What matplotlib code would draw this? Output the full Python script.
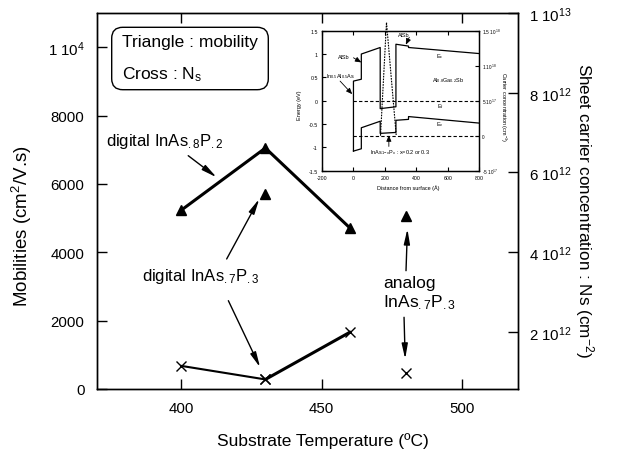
import matplotlib
matplotlib.use("Agg")
import matplotlib.pyplot as plt
from matplotlib.patches import FancyBboxPatch
from matplotlib.transforms import IdentityTransform

plt.rcParams['font.family'] = ['Liberation Sans', 'DejaVu Sans']
plt.rcParams['mathtext.fontset'] = 'custom'
plt.rcParams['mathtext.rm'] = 'Liberation Sans'
plt.rcParams['mathtext.it'] = 'Liberation Sans:italic'
plt.rcParams['mathtext.bf'] = 'Liberation Sans:bold'

# ---------------- data ----------------
temp_digital = [400, 430, 460]
mob_digital82 = [5230, 7050, 4720]
ns_digital = [1.15e12, 0.81e12, 1.99e12]
temp_digital73 = [430]
mob_digital73 = [5700]
temp_analog = [480]
mob_analog = [5050]
ns_analog = [0.98e12]

left_ticks = [0, 2000, 4000, 6000, 8000, 10000]
left_labels = ['0', '2000', '4000', '6000', '8000', r'1 10$\mathregular{^{4}}$']
right_ticks = [2e12, 4e12, 6e12, 8e12, 1e13]
right_labels = [r'2 10$\mathregular{^{12}}$', r'4 10$\mathregular{^{12}}$',
                r'6 10$\mathregular{^{12}}$', r'8 10$\mathregular{^{12}}$',
                r'1 10$\mathregular{^{13}}$']
x_ticks = [400, 450, 500]

# inset band diagram
band_x = [0, 0, 50, 50, 170, 170, 270, 270, 350, 350, 800]
ec_y = [-1.08, 0.42, 0.46, 1.00, 1.14, -0.17, -0.13, 1.21, 1.17, 1.14, 1.01]
ev_x = [0, 50, 50, 170, 170, 270, 270, 350, 350, 800]
ev_y = [-1.08, -1.03, -0.58, -0.44, -0.70, -0.68, -0.42, -0.40, -0.34, -0.48]
conc_x = [172, 210, 272]
conc_y = [0, 1.62e18, 0]
inset_xticks = [-200, 0, 200, 400, 600, 800]
inset_yticks = [-1.5, -1, -0.5, 0, 0.5, 1, 1.5]
inset_ylabels = ['-1.5', '-1', '-0.5', '0', '0.5', '1', '1.5']
inset_rticks = [-5e17, 0, 5e17, 1e18, 1.5e18]
inset_rlabels = [r'-5 10$\mathregular{^{17}}$', '0', r'5 10$\mathregular{^{17}}$',
                 r'1 10$\mathregular{^{18}}$', r'1.5 10$\mathregular{^{18}}$']

W, H = 618, 452
fig = plt.figure(figsize=(W / 100, H / 100), dpi=100)

def fx(px):
    return px / W

def fy(py):
    return 1 - py / H

ax = fig.add_axes([fx(97), fy(390), fx(518) - fx(97), fy(14) - fy(390)])
ax2 = ax.twinx()

ax.set_xlim(370, 520)
ax.set_ylim(0, 11000)
ax2.set_ylim(0.57e12, 1e13)

for a in (ax, ax2):
    for s in a.spines.values():
        s.set_linewidth(1.0)

ax.set_xticks(x_ticks)
ax.set_xticklabels([str(t) for t in x_ticks])
ax.set_yticks(left_ticks)
ax.set_yticklabels(left_labels)
ax.tick_params(axis='x', direction='in', top=True, length=7, width=1, labelsize=10.8, pad=9)
ax.tick_params(axis='y', direction='in', right=False, length=7, width=1, labelsize=10.8, pad=9)
ax2.set_yticks(right_ticks)
ax2.set_yticklabels(right_labels)
ax2.tick_params(axis='y', direction='in', length=7, width=1, labelsize=10.8, pad=8)

# mobility data
ax.plot(temp_digital, mob_digital82, color='k', lw=2.2, marker='^', ms=6.5, zorder=3)
ax.plot(temp_digital73, mob_digital73, ls='none', color='k', marker='^', ms=6.5)
ax.plot(temp_analog, mob_analog, ls='none', color='k', marker='^', ms=6.5)
# Ns data
ax2.plot(temp_digital[:2], ns_digital[:2], color='k', lw=1.5, marker='x', ms=7.5, mew=1)
ax2.plot(temp_digital[1:], ns_digital[1:], color='k', lw=2.2, marker='x', ms=7.5, mew=1)
ax2.plot(temp_analog, ns_analog, ls='none', color='k', marker='x', ms=7.5, mew=1)

# labels
fig.text(fx(22), fy(226), r'Mobilities (cm$\mathregular{^{2}}$/V.s)', rotation=90,
         ha='center', va='center', fontsize=13.5)
fig.text(fx(323), fy(441), 'Substrate Temperature (ºC)', ha='center', va='center', fontsize=12.5)
fig.text(fx(584), fy(211), r'Sheet carrier concentration : Ns (cm$\mathregular{^{-2}}$)',
         rotation=270, ha='center', va='center', fontsize=12.3)

# annotations
akw = dict(arrowstyle='-|>,head_length=0.75,head_width=0.15', color='k', lw=1.0,
           shrinkA=0, shrinkB=0, mutation_scale=12)
ax.text(373.2, 7257, r'digital InAs$\mathregular{_{.8}}$P$\mathregular{_{.2}}$',
        ha='left', va='center', fontsize=12)
ax.annotate('', xy=(412.6, 6194), xytext=(402.5, 6826), arrowprops=akw)

ax.text(385.9, 3306, r'digital InAs$\mathregular{_{.7}}$P$\mathregular{_{.3}}$',
        ha='left', va='center', fontsize=12)
ax.annotate('', xy=(427.8, 5559), xytext=(416.2, 3804), arrowprops=akw)
ax.annotate('', xy=(428.1, 635), xytext=(416.8, 2584), arrowprops=akw)

ax.text(472.0, 2809, 'analog\n' + r'InAs$\mathregular{_{.7}}$P$\mathregular{_{.3}}$',
        ha='left', va='center', fontsize=12.5, linespacing=1.2)
ax.annotate('', xy=(480.6, 4682), xytext=(480.1, 3461), arrowprops=akw)
ax.annotate('', xy=(479.8, 878), xytext=(479.4, 2098), arrowprops=akw)

# legend-like box
box = FancyBboxPatch((111.7, H - 90.7), 156.6, 62.4,
                     boxstyle='round,pad=0,rounding_size=11',
                     transform=IdentityTransform(), facecolor='white',
                     edgecolor='k', lw=1.0, zorder=5)
fig.patches.append(box)
fig.text(fx(121.5), fy(43), 'Triangle : mobility', ha='left', va='center', fontsize=12.5, zorder=6)
fig.text(fx(121.5), fy(75), r'Cross : N$\mathregular{_{s}}$', ha='left', va='center', fontsize=12.5, zorder=6)

# ---------------- inset ----------------
axi = fig.add_axes([fx(322), fy(171.7), fx(479.3) - fx(322), fy(31.7) - fy(171.7)])
axi2 = axi.twinx()
axi.set_xlim(-200, 800)
axi.set_ylim(-1.5, 1.5)
axi2.set_ylim(-5e17, 1.5e18)
for a in (axi, axi2):
    for s in a.spines.values():
        s.set_linewidth(0.9)
axi.set_xticks(inset_xticks)
axi.set_xticklabels([str(t) for t in inset_xticks])
axi.set_yticks(inset_yticks)
axi.set_yticklabels(inset_ylabels)
axi.tick_params(direction='in', top=True, right=False, length=3, width=0.8, labelsize=3.8, pad=3)
axi2.set_yticks(inset_rticks)
axi2.set_yticklabels(inset_rlabels)
axi2.tick_params(direction='in', length=3, width=0.8, labelsize=3.4, pad=2)

axi.plot(band_x, ec_y, color='k', lw=0.9)
axi.plot(ev_x, ev_y, color='k', lw=0.9)
axi.plot([0, 800], [0, 0], color='k', lw=0.8, ls=(0, (3, 2)))
axi2.plot([0, 800], [0, 0], color='k', lw=0.8, ls=(0, (3, 2)))
axi2.plot(conc_x, conc_y, color='k', lw=0.8, ls=(0, (1.5, 1)), clip_on=False)

fig.text(fx(300), fy(105), 'Energy (eV)', rotation=90, ha='center', va='center', fontsize=4)
fig.text(fx(408), fy(188), 'Distance from surface (Å)', ha='center', va='center', fontsize=4)
fig.text(fx(503), fy(107), r'Carrier concentration (cm$\mathregular{^{-3}}$)', rotation=270,
         ha='center', va='center', fontsize=4)

ikw = dict(arrowstyle='-|>,head_length=0.6,head_width=0.25', color='k', lw=0.6,
           shrinkA=0, shrinkB=0, mutation_scale=6)
axi.text(-60, 0.95, 'AlSb', ha='center', va='center', fontsize=4)
axi.annotate('', xy=(50, 0.82), xytext=(0, 0.92), arrowprops=ikw)
axi.text(-85, 0.53, r'In$\mathregular{_{0.5}}$Al$\mathregular{_{0.5}}$As', ha='center', va='center', fontsize=4)
axi.annotate('', xy=(-8, 0.14), xytext=(-85, 0.42), arrowprops=ikw)
axi.text(320, 1.42, 'AlSb', ha='center', va='center', fontsize=4)
axi.annotate('', xy=(333, 1.2), xytext=(355, 1.36), arrowprops=ikw)
axi.text(546, 0.96, r'E$\mathregular{_{c}}$', ha='center', va='center', fontsize=4)
axi.text(600, 0.45, r'Al$\mathregular{_{0.8}}$Ga$\mathregular{_{0.2}}$Sb', ha='center', va='center', fontsize=4)
axi.text(554, -0.1, r'E$\mathregular{_{f}}$', ha='center', va='center', fontsize=4)
axi.text(550, -0.5, r'E$\mathregular{_{v}}$', ha='center', va='center', fontsize=4)
axi.text(105, -1.1, r'InAs$\mathregular{_{1-x}}$P$\mathregular{_{x}}$ : x=0.2 or 0.3', ha='left', va='center', fontsize=4)
axi.annotate('', xy=(225, -0.74), xytext=(225, -0.98), arrowprops=ikw)

fig.savefig('out.png', dpi=100)
